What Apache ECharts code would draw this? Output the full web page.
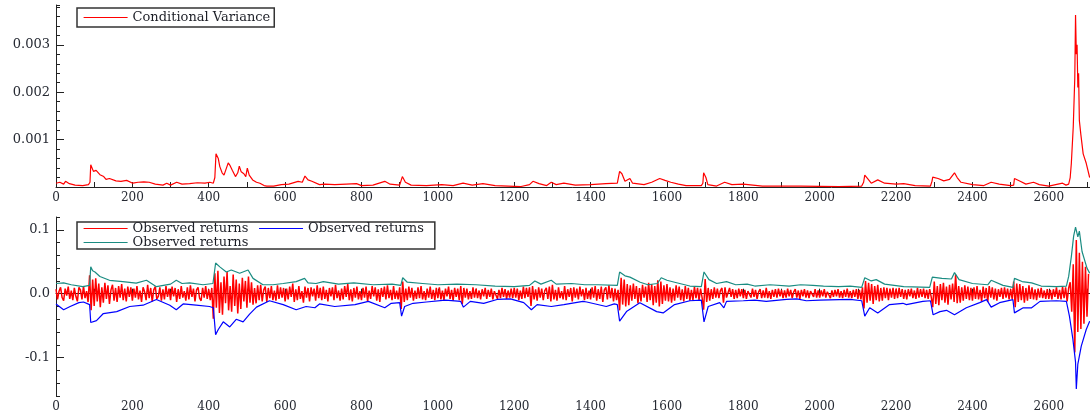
<!DOCTYPE html>
<html>
<head>
<meta charset="utf-8">
<script src="https://cdn.jsdelivr.net/npm/echarts@6.0.0/dist/echarts.min.js"></script>
<style>
  html, body { margin: 0; padding: 0; background: #fff; }
  #chart { width: 1090px; height: 413px; }
</style>
</head>
<body>
<div id="chart"></div>
<script>
// conditional variance, [observation, value]
const variance = [
  [0, 0.00008], [10, 0.0001], [20, 0.00006], [25, 0.00012], [35, 0.00007], [50, 0.00004], [70, 0.00003],
  [85, 0.00005], [89, 0.0001], [91, 0.00047], [98, 0.00033], [105, 0.00035], [115, 0.00026], [125, 0.00022],
  [131, 0.00016], [140, 0.00018], [157, 0.00013], [170, 0.00012], [185, 0.00014], [201, 0.00008], [215, 0.0001],
  [230, 0.00011], [244, 0.0001], [260, 0.00006], [280, 0.00004], [290, 0.00008], [300, 0.00004], [316, 0.0001],
  [330, 0.00006], [350, 0.00007], [370, 0.00009], [390, 0.00008], [403, 0.0001], [412, 0.00008], [416, 0.0002],
  [419, 0.0007], [421, 0.00072], [425, 0.0006], [429, 0.00043], [435, 0.0003], [440, 0.00025], [445, 0.00028],
  [451, 0.00051], [456, 0.00045], [462, 0.00035], [470, 0.00022], [476, 0.0003], [480, 0.00044], [485, 0.00032],
  [492, 0.00028], [497, 0.00022], [501, 0.0004], [506, 0.00025], [515, 0.00015], [525, 0.0001], [534, 0.00008],
  [545, 0.00003], [552, 0.00002], [570, 0.00002], [590, 0.00005], [610, 0.00006], [634, 0.00012], [645, 0.0001],
  [652, 0.00023], [660, 0.00015], [670, 0.00012], [690, 0.00005], [704, 0.00006], [730, 0.00005], [760, 0.00006],
  [787, 0.00007], [800, 0.00003], [830, 0.00004], [861, 0.00012], [875, 0.00006], [900, 0.00004], [905, 0.00005],
  [907, 0.00022], [915, 0.0001], [930, 0.00004], [970, 0.00003], [1010, 0.00005], [1040, 0.00003], [1066, 0.00008],
  [1090, 0.00004], [1118, 0.00007], [1150, 0.00003], [1218, 0.00001], [1240, 0.00005], [1249, 0.00012],
  [1265, 0.00007], [1285, 0.00003], [1297, 0.0001], [1310, 0.00005], [1330, 0.00008], [1360, 0.00004],
  [1400, 0.00005], [1440, 0.00007], [1470, 0.00008], [1474, 0.0001], [1476, 0.00033], [1482, 0.00028],
  [1490, 0.00012], [1503, 0.00018], [1510, 0.00008], [1540, 0.00005], [1560, 0.0001], [1581, 0.00018],
  [1595, 0.00014], [1610, 0.0001], [1630, 0.00006], [1650, 0.00003], [1690, 0.00003], [1694, 0.00008],
  [1696, 0.0003], [1702, 0.0002], [1707, 0.00005], [1730, 0.00002], [1751, 0.0001], [1770, 0.00005],
  [1800, 0.00006], [1850, 0.00002], [1950, 0.00002], [2050, 0.00001], [2110, 0.00002], [2115, 0.0001],
  [2118, 0.00025], [2125, 0.00018], [2135, 0.00008], [2152, 0.00015], [2170, 0.00008], [2200, 0.00006],
  [2220, 0.00007], [2250, 0.00003], [2290, 0.00002], [2294, 0.00012], [2296, 0.00021], [2310, 0.00018],
  [2325, 0.00013], [2340, 0.00016], [2353, 0.0003], [2360, 0.0002], [2370, 0.0001], [2400, 0.00005],
  [2430, 0.00003], [2449, 0.0001], [2470, 0.00006], [2500, 0.00003], [2508, 0.00004], [2510, 0.00018],
  [2525, 0.00012], [2540, 0.00006], [2560, 0.0001], [2575, 0.00005], [2600, 0.00002], [2636, 0.00008],
  [2645, 0.00004], [2652, 0.00006], [2656, 0.0002], [2659, 0.0005], [2664, 0.00127], [2668, 0.0023],
  [2670, 0.00363], [2672, 0.0028], [2674, 0.003], [2676, 0.0021], [2678, 0.0024], [2680, 0.0014],
  [2684, 0.0011], [2690, 0.0007], [2698, 0.0005], [2707, 0.0002]
];

// observed returns, one value every 4 observations (one row = 100 obs)
const returnsStep = 4;
const returns = [
  0.007, -0.009, 0.004, 0.010, -0.006,  -0.011, 0.008, -0.003, 0.011, -0.008,  0.005, -0.010, 0.009, -0.004, -0.012,  0.010, 0.006, -0.009, 0.012, -0.007,  0.004, -0.013, 0.029, -0.026, 0.022,
  -0.019, 0.024, -0.012, 0.016, -0.021,  0.010, -0.014, 0.017, -0.008, 0.013,  -0.016, 0.006, 0.014, -0.011, 0.009,  -0.013, 0.012, -0.006, 0.015, -0.010,  0.008, -0.012, 0.011, -0.005, 0.010,
  -0.011, 0.008, -0.006, 0.012, -0.009,  0.005, -0.013, 0.010, 0.003, -0.010,  0.014, -0.007, 0.009, -0.012, 0.006,  0.011, -0.008, -0.004, 0.010, -0.011,  0.007, -0.009, 0.012, -0.005, 0.008,
  -0.010, 0.011, -0.004, 0.009, -0.013,  0.007, -0.008, 0.012, -0.006, 0.004,  -0.011, 0.010, -0.009, 0.013, -0.005,  0.008, -0.012, 0.006, 0.010, -0.007,  -0.011, 0.009, -0.006, 0.012, -0.008,
  0.007, -0.010, 0.009, -0.039, 0.032,  -0.022, 0.036, -0.030, 0.018, -0.033,  0.027, -0.015, 0.034, -0.026, 0.012,  -0.028, 0.030, -0.019, 0.022, -0.031,  0.016, -0.024, 0.025, -0.012, 0.020,
  -0.022, 0.027, -0.014, 0.018, -0.017,  0.009, -0.015, 0.013, -0.010, 0.014,  -0.012, 0.006, 0.011, -0.013, 0.009,  -0.007, 0.012, -0.010, 0.005, -0.011,  0.013, -0.008, 0.010, -0.006, 0.009,
  -0.012, 0.008, -0.009, 0.011, -0.005,  0.016, -0.013, 0.007, -0.010, 0.012,  -0.008, 0.004, -0.014, 0.011, -0.006,  0.009, -0.012, 0.010, -0.004, 0.008,  -0.011, 0.013, -0.007, 0.009, -0.010,
  0.011, -0.008, 0.006, -0.012, 0.009,  -0.004, 0.010, -0.010, 0.014, -0.007,  0.005, -0.011, 0.008, -0.009, 0.012,  -0.005, 0.015, -0.010, 0.007, -0.012,  0.009, -0.006, 0.011, -0.009, 0.004,
  -0.010, 0.009, -0.006, 0.011, -0.012,  0.005, -0.008, 0.012, -0.004, 0.010,  -0.011, 0.007, -0.013, 0.009, -0.005,  0.011, -0.009, 0.013, -0.007, 0.006,  -0.010, 0.012, -0.008, 0.005, -0.009,
  0.010, -0.024, 0.019, -0.013, 0.008,  -0.010, 0.011, -0.006, 0.009, -0.011,  0.005, -0.008, 0.010, -0.007, 0.012,  -0.009, 0.004, -0.010, 0.008, -0.006,  0.011, -0.008, 0.006, -0.010, 0.009,
  -0.007, 0.010, -0.009, 0.005, -0.010,  0.008, -0.004, 0.011, -0.008, 0.006,  -0.011, 0.009, -0.005, 0.008, -0.010,  0.012, -0.016, 0.009, -0.006, 0.008,  -0.009, 0.004, -0.008, 0.010, -0.006,
  0.008, -0.007, 0.005, -0.009, 0.007,  -0.004, 0.009, -0.008, 0.006, -0.005,  0.008, -0.009, 0.004, 0.007, -0.008,  0.006, -0.007, 0.009, -0.005, 0.007,  -0.008, 0.005, -0.006, 0.008, -0.007,
  0.009, -0.006, 0.008, -0.010, 0.005,  -0.008, 0.011, -0.007, 0.009, -0.005,  0.010, -0.019, 0.012, -0.009, 0.007,  -0.011, 0.010, -0.006, 0.008, -0.010,  0.005, 0.009, -0.008, 0.011, -0.012,
  0.014, -0.009, 0.006, -0.011, 0.010,  -0.007, 0.004, -0.009, 0.012, -0.010,  0.007, -0.005, 0.009, -0.012, 0.010,  -0.006, 0.008, -0.009, 0.011, -0.004,  0.007, -0.010, 0.009, -0.008, 0.005,
  -0.009, 0.010, -0.006, 0.012, -0.011,  0.007, -0.008, 0.011, -0.013, 0.006,  0.010, -0.009, 0.013, -0.007, 0.009,  -0.012, 0.008, -0.010, 0.006, -0.026,  0.025, -0.017, 0.022, -0.020, 0.015,
  -0.018, 0.013, -0.011, 0.016, -0.008,  0.012, -0.015, 0.009, -0.012, 0.014,  -0.006, 0.011, -0.013, 0.017, -0.010,  0.015, -0.018, 0.012, -0.014, 0.021,  -0.020, 0.019, -0.016, 0.013, -0.011,
  0.015, -0.012, 0.010, -0.014, 0.008,  -0.011, 0.013, -0.006, 0.011, -0.010,  0.007, -0.012, 0.012, -0.008, 0.009,  -0.011, 0.006, -0.010, 0.011, -0.007,  0.009, -0.010, 0.008, -0.006, -0.025,
  0.023, -0.013, 0.009, -0.011, 0.007,  -0.008, 0.010, -0.006, 0.008, -0.007,  0.005, 0.009, -0.014, 0.010, -0.006,  -0.008, 0.009, -0.005, 0.007, -0.008,  0.006, -0.007, 0.008, -0.004, 0.007,
  -0.007, 0.006, -0.008, 0.004, 0.007,  -0.006, 0.008, -0.005, 0.006, -0.008,  0.003, 0.007, -0.007, 0.005, -0.006,  0.009, -0.007, 0.004, -0.008, 0.006,  -0.005, 0.007, -0.006, 0.008, -0.004,
  0.006, -0.007, 0.005, -0.006, 0.008,  -0.004, 0.006, -0.007, 0.003, 0.007,  -0.006, 0.005, -0.008, 0.006, -0.004,  0.007, -0.006, 0.005, -0.007, 0.004,  0.006, -0.005, 0.007, -0.006, 0.005,
  -0.006, 0.005, -0.004, 0.007, -0.006,  0.003, 0.006, -0.007, 0.005, -0.005,  0.006, -0.004, 0.007, -0.006, 0.004,  -0.007, 0.006, -0.005, 0.008, -0.006,  0.004, -0.007, 0.006, -0.005, 0.007,
  -0.008, 0.006, -0.009, 0.010, -0.023,  0.020, -0.014, 0.017, -0.011, 0.015,  -0.016, 0.012, -0.010, 0.014, -0.012,  0.009, -0.011, 0.010, -0.007, 0.009,  -0.010, 0.008, -0.006, 0.009, -0.008,
  0.008, -0.007, 0.009, -0.005, 0.007,  -0.008, 0.006, -0.009, 0.007, -0.004,  0.008, -0.007, 0.005, -0.008, 0.009,  -0.006, 0.007, -0.005, 0.008, -0.007,  0.006, -0.008, 0.007, -0.005, -0.021,
  0.019, -0.016, 0.012, -0.018, 0.015,  -0.010, 0.017, -0.014, 0.011, -0.017,  0.014, -0.009, 0.016, -0.013, 0.030,  -0.015, 0.012, -0.014, 0.010, -0.011,  0.013, -0.008, 0.011, -0.010, 0.009,
  -0.011, 0.010, -0.008, 0.012, -0.009,  0.006, -0.012, 0.011, -0.007, 0.009,  -0.013, 0.012, -0.006, 0.010, -0.009,  0.008, -0.011, 0.007, -0.005, 0.009,  -0.008, 0.010, -0.006, 0.008, -0.009,
  0.007, -0.008, 0.019, -0.021, 0.016,  -0.013, 0.015, -0.010, 0.012, -0.014,  0.009, -0.011, 0.013, -0.008, 0.010,  -0.009, 0.007, -0.010, 0.008, -0.006,  0.009, -0.007, 0.005, -0.008, 0.007,
  -0.008, 0.006, -0.009, 0.007, -0.005,  0.010, -0.008, 0.006, -0.009, 0.011,  -0.007, 0.010, -0.012, 0.009, 0.018,  -0.028, 0.046, -0.092, 0.084, -0.060,  0.064, -0.055, 0.050, -0.047, 0.042,
  -0.036, 0.031
];

// upper band (teal), [observation, value]
const upperBand = [
  [0, 0.016], [20, 0.017], [40, 0.014], [70, 0.011], [88, 0.013], [91, 0.042], [96, 0.036], [102, 0.034], [115, 0.027],
  [140, 0.021], [175, 0.019], [210, 0.0165], [237, 0.021], [250, 0.016], [263, 0.011], [300, 0.015], [315, 0.021],
  [330, 0.016], [350, 0.017], [385, 0.014], [411, 0.016], [416, 0.013], [418, 0.048], [429, 0.042], [446, 0.034],
  [459, 0.037], [481, 0.032], [503, 0.037], [516, 0.024], [542, 0.014], [568, 0.014], [595, 0.016], [629, 0.019],
  [651, 0.024], [660, 0.017], [681, 0.016], [700, 0.019], [740, 0.015], [780, 0.017], [830, 0.014], [880, 0.015],
  [903, 0.013], [908, 0.025], [920, 0.018], [960, 0.016], [1000, 0.014], [1050, 0.015], [1100, 0.014],
  [1150, 0.012], [1200, 0.011], [1240, 0.013], [1254, 0.02], [1270, 0.015], [1297, 0.021], [1310, 0.015],
  [1350, 0.016], [1385, 0.014], [1420, 0.014], [1470, 0.013], [1476, 0.034], [1490, 0.028], [1503, 0.026],
  [1530, 0.018], [1550, 0.014], [1575, 0.016], [1585, 0.025], [1600, 0.021], [1620, 0.018], [1660, 0.012],
  [1690, 0.011], [1697, 0.034], [1710, 0.022], [1730, 0.016], [1756, 0.019], [1780, 0.014], [1810, 0.015],
  [1830, 0.012], [1870, 0.014], [1920, 0.012], [1950, 0.014], [1982, 0.013], [2010, 0.012], [2050, 0.011],
  [2080, 0.012], [2110, 0.01], [2118, 0.025], [2135, 0.02], [2148, 0.022],
  [2170, 0.015], [2220, 0.011], [2288, 0.01], [2295, 0.026], [2320, 0.024], [2345, 0.023], [2353, 0.033],
  [2365, 0.022], [2400, 0.016], [2440, 0.014], [2449, 0.021], [2480, 0.013], [2506, 0.01], [2510, 0.024],
  [2530, 0.019], [2555, 0.017], [2580, 0.012], [2620, 0.011], [2646, 0.012], [2652, 0.027], [2659, 0.058], [2665, 0.09],
  [2670, 0.104], [2676, 0.089], [2680, 0.098], [2687, 0.066], [2700, 0.04], [2707, 0.032]
];

// lower band (blue), [observation, value]
const lowerBand = [
  [0, -0.016], [20, -0.025], [37, -0.02], [60, -0.014], [72, -0.013], [88, -0.017], [91, -0.045], [106, -0.042],
  [124, -0.031], [159, -0.028], [193, -0.02], [228, -0.018], [263, -0.009], [298, -0.018], [315, -0.025],
  [333, -0.016], [367, -0.018], [402, -0.02], [412, -0.022], [418, -0.064], [425, -0.056], [438, -0.044],
  [455, -0.052], [472, -0.04], [490, -0.044], [507, -0.032], [525, -0.021], [559, -0.011], [595, -0.017],
  [629, -0.025], [655, -0.02], [678, -0.022], [690, -0.016], [730, -0.02], [783, -0.017], [818, -0.012],
  [861, -0.022], [878, -0.015], [900, -0.014], [905, -0.035], [913, -0.02], [935, -0.015], [970, -0.013],
  [1020, -0.01], [1060, -0.012], [1067, -0.021], [1085, -0.012], [1120, -0.015], [1155, -0.009], [1190, -0.008],
  [1225, -0.014], [1245, -0.025], [1260, -0.017], [1297, -0.02], [1330, -0.017], [1380, -0.012], [1390, -0.013],
  [1441, -0.02], [1462, -0.016], [1470, -0.017], [1476, -0.043], [1494, -0.028], [1529, -0.014], [1573, -0.028],
  [1590, -0.03], [1620, -0.017], [1660, -0.011], [1690, -0.01], [1697, -0.044], [1708, -0.02], [1738, -0.014],
  [1749, -0.022], [1756, -0.012], [1800, -0.011], [1830, -0.01], [1860, -0.012], [1913, -0.009], [1940, -0.008],
  [1965, -0.011], [2000, -0.01], [2052, -0.0093], [2080, -0.009], [2110, -0.011],
  [2118, -0.035], [2131, -0.022], [2152, -0.03], [2183, -0.017], [2218, -0.015], [2227, -0.017], [2270, -0.012],
  [2290, -0.011], [2297, -0.033], [2315, -0.028], [2332, -0.026], [2353, -0.033], [2384, -0.022], [2419, -0.014],
  [2437, -0.0093], [2449, -0.021], [2471, -0.014], [2506, -0.0093], [2510, -0.03], [2533, -0.022], [2555, -0.022],
  [2577, -0.012], [2620, -0.011], [2646, -0.012], [2654, -0.035], [2663, -0.071], [2670, -0.107], [2672, -0.149], [2676, -0.11],
  [2685, -0.082], [2698, -0.056], [2707, -0.043]
];

const xMax = 2707;
const topTicks = [0.001, 0.002, 0.003];
const bottomTicks = [-0.1, 0, 0.1];

const serif = 'DejaVu Serif';
const axisColor = '#222';
const labelColor = '#262a33';

let xAxisFor = gridIndex => ({
  type: 'value',
  gridIndex,
  min: 0,
  max: xMax,
  interval: 100,
  axisLine: { lineStyle: { color: axisColor } },
  axisTick: { inside: true, length: 5, lineStyle: { color: axisColor } },
  axisLabel: {
    fontFamily: serif,
    fontSize: 12,
    color: labelColor,
    margin: 5,
    showMaxLabel: false,
    formatter: v => (v % 200 === 0 ? String(v) : '')
  },
  splitLine: { show: false }
})

// two y axes per panel: fine ticks + labelled major ticks
let yAxesFor = (gridIndex, min, max, step, majors, digits) => [
  {
    type: 'value',
    gridIndex,
    min,
    max,
    interval: step,
    position: 'left',
    axisLine: { show: true, lineStyle: { color: axisColor } },
    axisTick: { inside: true, length: 4, lineStyle: { color: axisColor } },
    axisLabel: { show: false },
    splitLine: { show: false }
  },
  {
    type: 'value',
    gridIndex,
    min,
    max,
    position: 'left',
    axisLine: { show: false },
    axisTick: { inside: true, length: 8, customValues: majors, lineStyle: { color: axisColor } },
    axisLabel: {
      fontFamily: serif,
      fontSize: 13,
      color: labelColor,
      margin: 6,
      customValues: majors,
      formatter: v => v.toFixed(digits)
    },
    splitLine: { show: false }
  }
]

// line-only legend marks: the series' line, symbol hidden
const legendBase = {
  orient: 'horizontal',
  left: 77,
  itemWidth: 44,
  itemHeight: 12,
  itemGap: 1,
  itemStyle: { opacity: 0 },
  lineStyle: { width: 1.2 },
  backgroundColor: '#fff',
  borderColor: '#333',
  borderWidth: 1.5,
  selectedMode: false,
  formatter: name => name.trim()
}

const legendText = {
  fontFamily: serif,
  fontSize: 13,
  lineHeight: 12,
  color: '#1c1e26'
}

// same label three times, kept apart by trailing spaces
const retName = 'Observed returns';
const lowName = 'Observed returns ';
const upName = 'Observed returns  ';

const option = {
  animation: false,
  backgroundColor: '#fff',
  grid: [
    { left: 56, right: 0, top: 5, height: 182 },
    { left: 56, right: 0, top: 217, height: 180 }
  ],
  legend: [
    Object.assign({}, legendBase, {
      top: 8,
      padding: [3, 3, 3, 6],
      textStyle: Object.assign({}, legendText, { padding: [0, 1, 0, 0] }),
      data: ['Conditional Variance']
    }),
    Object.assign({}, legendBase, {
      top: 222,
      width: 360,
      padding: [0, 2, 0, 6],
      textStyle: Object.assign({}, legendText, { padding: [0, 9, 0, 0] }),
      data: [retName, lowName, upName]
    })
  ],
  xAxis: [xAxisFor(0), xAxisFor(1)],
  yAxis: [
    ...yAxesFor(0, 0, 0.00384, 0.0002, topTicks, 3),
    ...yAxesFor(1, -0.16, 0.12, 0.02, bottomTicks, 1)
  ],
  series: [
    {
      name: 'Conditional Variance',
      type: 'line',
      xAxisIndex: 0,
      yAxisIndex: 0,
      symbol: 'none',
      color: '#ff0000',
      lineStyle: { width: 1.2 },
      data: variance
    },
    {
      name: retName,
      type: 'line',
      xAxisIndex: 1,
      yAxisIndex: 2,
      symbol: 'none',
      color: '#ff0000',
      z: 3,
      lineStyle: { width: 1.5 },
      data: returns.map((v, i) => [i * returnsStep, v])
    },
    {
      name: lowName,
      type: 'line',
      xAxisIndex: 1,
      yAxisIndex: 2,
      symbol: 'none',
      color: '#0000ff',
      lineStyle: { width: 1.2 },
      data: lowerBand
    },
    {
      name: upName,
      type: 'line',
      xAxisIndex: 1,
      yAxisIndex: 2,
      symbol: 'none',
      color: '#1a8c82',
      lineStyle: { width: 1.2 },
      data: upperBand
    }
  ]
}

const chart = echarts.init(document.getElementById('chart'))
chart.setOption(option)
</script>
</body>
</html>
